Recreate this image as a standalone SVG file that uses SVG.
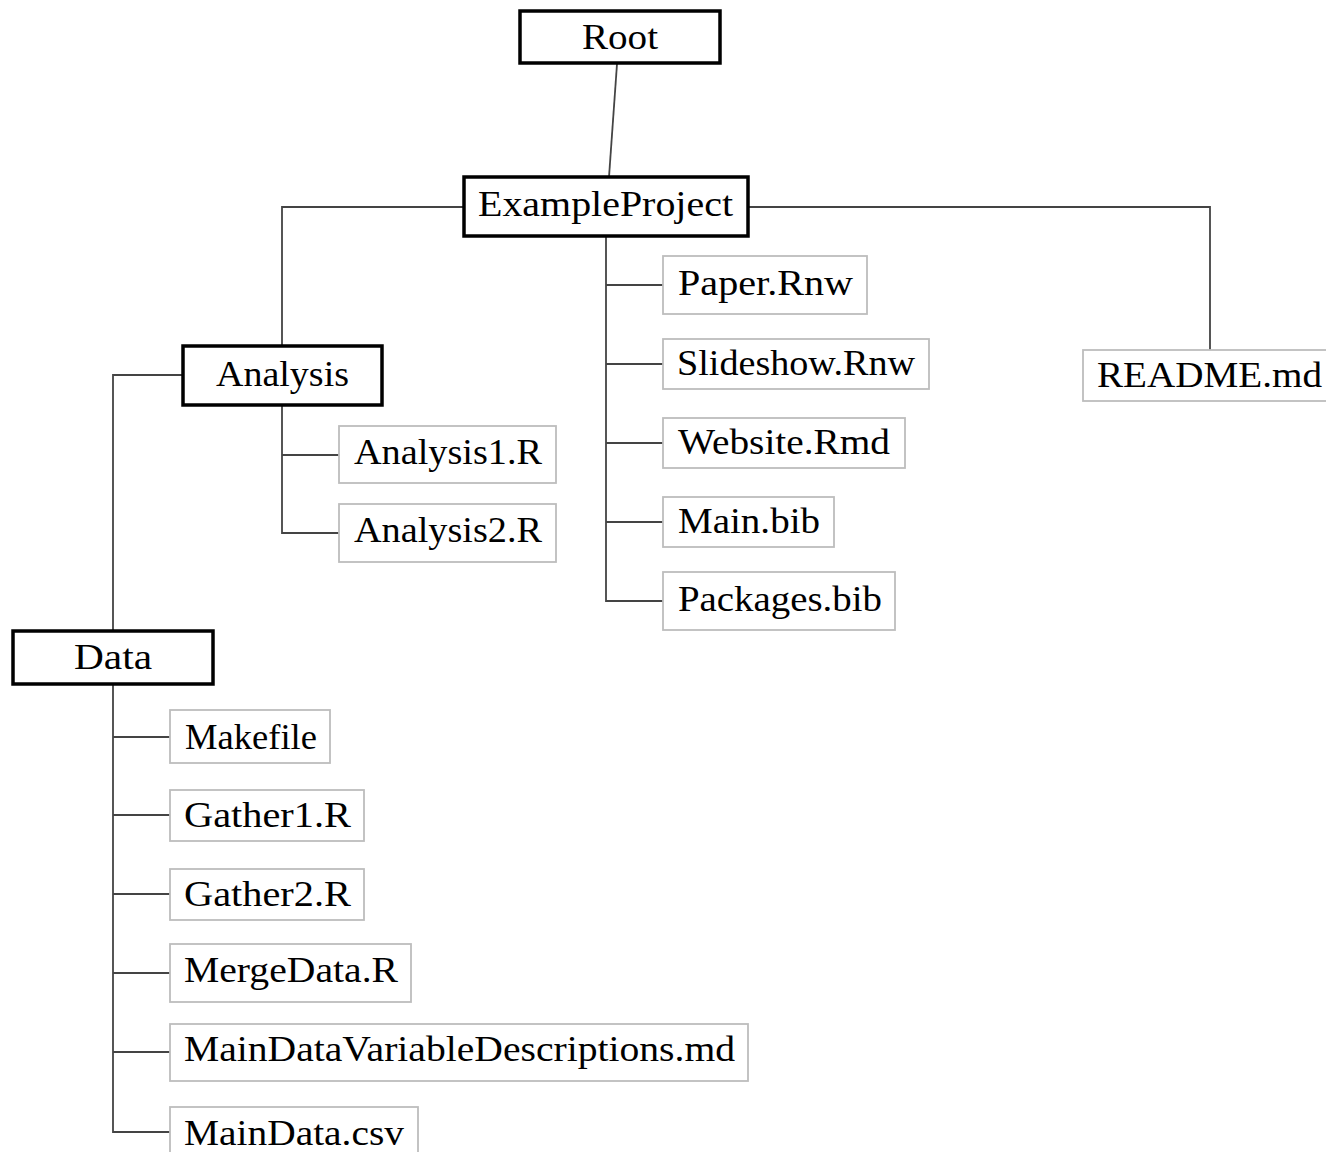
<svg xmlns="http://www.w3.org/2000/svg" width="1326" height="1152" viewBox="0 0 1326 1152">
<style>
.bg{fill:#fff}
.dir rect{fill:#fff;stroke:#000;stroke-width:3.5}
.file rect{fill:#fff;stroke:#bdbdbd;stroke-width:1.8}
text{font-family:"Liberation Serif","DejaVu Serif",serif;font-size:36px;fill:#000}
.conn path{fill:none;stroke:#444;stroke-width:1.8}
</style>
<rect class="bg" x="0" y="0" width="1326" height="1152"/>
<g class="conn">
<path d="M617,64 L609,177"/>
<path d="M464,207 H282 V346"/>
<path d="M748,207 H1210 V350"/>
<path d="M606,236 V601 H663"/>
<path d="M606,285 H663 M606,364 H663 M606,443 H663 M606,522 H663"/>
<path d="M183,375 H113 V631"/>
<path d="M282,405 V533 H339 M282,455 H339"/>
<path d="M113,684 V1132 H170 M113,737 H170 M113,815 H170 M113,894 H170 M113,973 H170 M113,1052 H170"/>
</g>
<g id="root" class="dir"><rect x="520" y="11" width="200" height="52"/><text x="582" y="49" textLength="76" lengthAdjust="spacingAndGlyphs">Root</text></g>
<g id="exampleproject" class="dir"><rect x="464" y="177" width="284" height="59"/><text x="478" y="216" textLength="255" lengthAdjust="spacingAndGlyphs">ExampleProject</text></g>
<g id="paper" class="file"><rect x="663" y="256" width="204" height="58"/><text x="678" y="295" textLength="175" lengthAdjust="spacingAndGlyphs">Paper.Rnw</text></g>
<g id="slideshow" class="file"><rect x="663" y="339" width="266" height="50"/><text x="677" y="375" textLength="238" lengthAdjust="spacingAndGlyphs">Slideshow.Rnw</text></g>
<g id="website" class="file"><rect x="663" y="418" width="242" height="50"/><text x="678" y="454" textLength="212" lengthAdjust="spacingAndGlyphs">Website.Rmd</text></g>
<g id="mainbib" class="file"><rect x="663" y="497" width="171" height="50"/><text x="678" y="533" textLength="142" lengthAdjust="spacingAndGlyphs">Main.bib</text></g>
<g id="packages" class="file"><rect x="663" y="572" width="232" height="58"/><text x="678" y="611" textLength="204" lengthAdjust="spacingAndGlyphs">Packages.bib</text></g>
<g id="readme" class="file"><rect x="1083" y="350" width="250" height="51"/><text x="1097" y="387" textLength="225" lengthAdjust="spacingAndGlyphs">README.md</text></g>
<g id="analysis" class="dir"><rect x="183" y="346" width="199" height="59"/><text x="216" y="386" textLength="133" lengthAdjust="spacingAndGlyphs">Analysis</text></g>
<g id="analysis1" class="file"><rect x="339" y="426" width="217" height="57"/><text x="354" y="464" textLength="188" lengthAdjust="spacingAndGlyphs">Analysis1.R</text></g>
<g id="analysis2" class="file"><rect x="339" y="504" width="217" height="58"/><text x="354" y="542" textLength="188" lengthAdjust="spacingAndGlyphs">Analysis2.R</text></g>
<g id="data" class="dir"><rect x="13" y="631" width="200" height="53"/><text x="74" y="669" textLength="78" lengthAdjust="spacingAndGlyphs">Data</text></g>
<g id="makefile" class="file"><rect x="170" y="710" width="160" height="53"/><text x="185" y="749" textLength="132" lengthAdjust="spacingAndGlyphs">Makefile</text></g>
<g id="gather1" class="file"><rect x="170" y="790" width="194" height="51"/><text x="184" y="827" textLength="167" lengthAdjust="spacingAndGlyphs">Gather1.R</text></g>
<g id="gather2" class="file"><rect x="170" y="869" width="194" height="51"/><text x="184" y="906" textLength="167" lengthAdjust="spacingAndGlyphs">Gather2.R</text></g>
<g id="mergedata" class="file"><rect x="170" y="944" width="241" height="58"/><text x="184" y="982" textLength="214" lengthAdjust="spacingAndGlyphs">MergeData.R</text></g>
<g id="maindatavar" class="file"><rect x="170" y="1024" width="578" height="57"/><text x="184" y="1061" textLength="551" lengthAdjust="spacingAndGlyphs">MainDataVariableDescriptions.md</text></g>
<g id="maindatacsv" class="file"><rect x="170" y="1107" width="248" height="60"/><text x="184" y="1145" textLength="220" lengthAdjust="spacingAndGlyphs">MainData.csv</text></g>
</svg>
